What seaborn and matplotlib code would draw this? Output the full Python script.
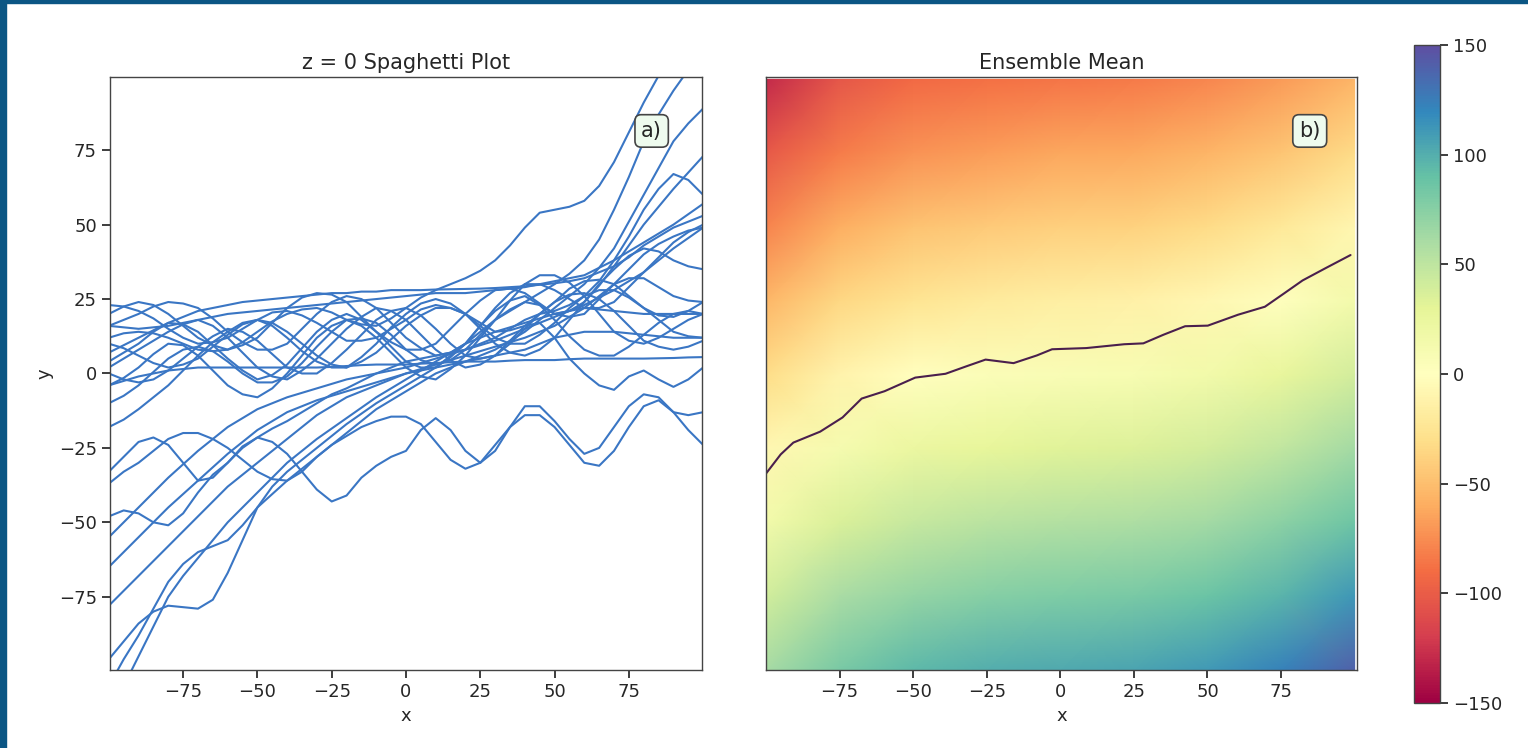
import matplotlib
matplotlib.use("Agg")
import matplotlib.pyplot as plt
from matplotlib.patches import Rectangle
import numpy as np
import pandas as pd
import seaborn as sns

# ---------------------------------------------------------------------------
# Data
# ---------------------------------------------------------------------------

x_grid = list(range(-100, 101, 5))

# z = 0 level of each ensemble member, sampled on x_grid
members = {
    "u1":  [23, 22.5, 21, 18.5, 15, 12, 10, 10.5, 12, 15, 18, 20.5, 21, 19.5, 17, 14, 11, 11, 12, 15,
            18, 21.5, 23, 22, 20, 17, 14, 14.5, 16, 20, 24, 28.5, 31, 31.5, 30, 26, 22, 19.5, 19, 21, 24],
    "u2":  [16, 15.5, 15, 15.5, 16, 17, 18, 19, 20, 20.5, 21, 21.5, 22, 22.5, 23, 23.5, 24, 24.5, 25, 25.5,
            26, 26.5, 27, 27, 27, 27.5, 28, 28.5, 29, 30, 31, 32, 33, 35.5, 38, 41, 44, 47, 50, 53.5, 57],
    "u3":  [10, 8.5, 6, 3.5, 2, 3, 5, 9, 13, 16.5, 18, 17, 14, 10, 6, 3, 2, 4, 7, 11.5,
            16, 19.5, 22, 22, 20, 16, 12, 10, 10, 13, 17, 22, 26, 28, 28, 25.5, 22, 18, 14, 12.5, 12],
    "u4":  [7, 9.5, 12, 14.5, 17, 19, 21, 22, 23, 24, 24.5, 25, 25.5, 26, 26.5, 27, 27, 27.5, 27.5, 28,
            28, 28, 28.2, 28.3, 28.4, 28.5, 28.7, 29, 29.3, 29.8, 30.3, 31, 32, 34, 36, 39, 43, 46, 49, 51, 53],
    "u5":  [4, 7, 10, 14, 17, 16.5, 14, 9.5, 5, 1, -2, -0.5, 3, 8.5, 14, 18, 20, 18, 14, 9,
            4, 2, 2, 5.5, 10, 16, 21, 24.5, 26, 23, 18, 12.5, 8, 6, 6, 9, 13, 17, 20, 21, 20],
    "u6":  [0, -2, -3, -2, 1, 5, 9, 12.5, 15, 14, 11, 6.5, 2, 0, 0, 3.5, 8, 13, 18, 21,
            22, 19.5, 15, 10, 6, 5, 6, 10, 15, 20, 24, 26.5, 27, 25, 21, 16, 11, 9, 8, 9, 11],
    "u7":  [-4, -2.5, -1, 0, 1, 1.5, 2, 2, 2, 2, 2, 2, 2, 2, 2, 2.2, 2.5, 2.8, 3, 3,
            3, 3.3, 3.5, 3.8, 4, 4, 4, 4.3, 4.5, 4.5, 4.5, 4.8, 5, 5, 5, 5, 5, 5.1, 5.2, 5.4, 5.5],
    "u8":  [-10, -7.5, -4, 0.5, 5, 8, 9, 7.5, 4, 0, -3, -3, -1, 3.5, 9, 14, 18, 18.5, 17, 13,
            8, 4.5, 3, 4.5, 8, 13, 18, 21.5, 24, 23, 20, 21, 24, 29.5, 36, 43, 50, 56, 62, 67.5, 73],
    "u9":  [-18, -15.5, -12, -8, -4, 1, 6, 10.5, 14, 17, 18, 16, 12, 7.5, 4, 2, 2, 5.5, 10, 15.5,
            20, 23.5, 25, 23.5, 20, 15, 10, 7, 6, 8, 12, 18, 24, 30, 35, 39.5, 42, 41, 38, 36, 35],
    "u10": [2, 5, 8, 11, 14, 16.5, 18, 16, 12, 7, 2, -1, -2, 1, 5, 10, 15, 19, 22, 21,
            18, 13, 8, 4.5, 2, 3, 6, 11, 16, 17, 12, 5, 0, -4, -5.5, -1, 1, -2, -4.5, -2, 2],
    "u11": [20, 22.5, 24, 23, 20, 16, 12, 9.5, 8, 9.5, 12, 17, 22, 25.5, 27, 26.5, 24, 19, 14, 10.5,
            8, 8, 10, 15, 20, 24.5, 28, 28.5, 27, 23.5, 20, 19, 20, 25, 30, 35, 40, 43.5, 46, 48, 49],
    "u12": [-4, -1.5, 2, 6.5, 10, 9.5, 6, 1, -4, -7, -8, -5, 0, 6, 12, 16, 18, 16, 12, 7,
            2, -1, -2, 1.5, 6, 12, 18, 24.5, 30, 33, 33, 30.5, 26, 20, 14, 11, 10, 12, 15, 18, 20],
    "u13": [16, 18, 20, 22.5, 24, 23.5, 22, 18.5, 14, 10.5, 8, 8, 10, 15, 20, 24, 26, 25, 22, 17,
            12, 8.5, 6, 7, 10, 16, 22, 27, 30, 30, 28, 25, 22, 22, 24, 29, 34, 39, 44, 47.5, 50],
    "h1":  [12, 13.5, 14, 13.5, 12, 10, 8, 7.5, 8, 10.5, 14, 17.5, 20, 21.5, 22, 20.5, 18, 16.5, 16, 18.5,
            22, 25.5, 28, 30, 32, 34.5, 38, 43, 49, 54, 55, 56, 58, 63, 71, 81, 91, 100, 108, 116, 124],
    "l1":  [-33, -28, -23, -21.5, -24, -30, -36, -35, -30, -24.5, -21.5, -23, -27, -33, -39, -43, -41, -35, -31, -28,
            -26, -19, -15, -19, -26, -30, -26, -18, -11, -11, -16, -22, -27, -25, -18, -11, -7, -8, -13, -14, -13],
    "l2":  [-37, -33, -30, -26, -22, -20, -20, -22, -25, -29, -33, -35.5, -36, -33, -28, -24, -21, -18, -16, -14.5,
            -14.5, -17, -23, -29, -32, -30, -24, -18, -14, -14, -18, -24, -30, -31, -26, -18, -11, -9, -13, -19, -24],
    "l3":  [-48, -46, -47, -50, -51, -47, -40, -34, -30, -25, -21.5, -18.5, -16, -13, -10, -7, -5, -2.5, 0, 2,
            4, 5, 6, 7, 8, 10, 12, 15, 18, 20, 21, 23, 26, 31, 38, 46, 55, 62, 67, 65, 60],
    "l4":  [-55, -50, -45, -40, -35, -30.5, -26, -22, -18, -15, -12, -10, -8, -6.5, -5, -3.5, -2, -1, 0, 1,
            2, 3.5, 5, 6.5, 8, 9.5, 11, 13, 15, 17, 19, 21, 23, 25.5, 28, 31, 34, 38, 42, 45.5, 49],
    "l5":  [-65, -60, -55, -50, -45, -40.5, -36, -31.5, -27, -23, -19, -16, -13, -11, -9, -7.5, -6, -4.5, -3, -1.5,
            0, 1.5, 3, 4.5, 6, 7.5, 9, 10.5, 12, 14, 16, 19, 22, 26, 30, 32, 32, 29, 26, 24.5, 24],
    "l6":  [-78, -73, -68, -63, -58, -53, -48, -43, -38, -34, -30, -26, -22, -18, -14, -11, -8, -6, -4, -2,
            0, 1, 2, 3, 4, 6, 8, 11, 14, 18, 22, 26, 30, 35.5, 42, 51, 60, 69, 78, 84, 89],
    "l7":  [-96, -90, -84, -80, -78, -78.5, -79, -76, -67, -56, -45, -38, -33, -29, -25, -21, -17, -13.5, -10, -7,
            -4, -1, 2, 6, 10, 14, 18, 21, 24, 27, 30, 33.5, 38, 45, 55, 66, 78, 87, 95, 102, 110],
    "l8":  [-105, -96, -88, -79, -70, -64, -60, -58, -56, -51, -45, -40.5, -36, -32, -28, -24, -20, -16, -12, -9,
            -6, -3, 0, 2, 4, 5, 6, 7, 8, 10, 12, 13, 14, 14, 14, 13.5, 13, 12.5, 12, 12, 12],
    "l9":  [-115, -105, -95, -85, -75, -68, -62, -56, -50, -45, -40, -35, -30, -26, -22, -18.5, -15, -11.5, -8, -5,
            -2, 1, 4, 7, 10, 12, 14, 15.5, 17, 18.5, 20, 21, 22, 21.5, 21, 20.5, 20, 20, 20, 20, 20],
}
for name, ys in members.items():
    assert len(ys) == len(x_grid), (name, len(ys))

# zero line of the ensemble mean (contour in panel b)
mean_x = [-100, -95, -90.7, -81.6, -74, -67.5, -59.7, -49.3, -39, -32, -25.4, -15.9, -8, -2.8,
          8.8, 21.7, 28.2, 35, 42.4, 50.1, 60.4, 69.5, 76, 82.3, 90, 98.6]
mean_y = [-33.5, -27, -23, -19.3, -14.5, -8.1, -5.6, -1, 0.3, 2.8, 5.1, 3.9, 6.5, 8.6,
          9, 10.3, 10.6, 13.5, 16.4, 16.6, 20.3, 23, 27.5, 31.9, 36, 40.5]

# ensemble mean field, rows y = 100 .. -100, columns x = -100 .. 100 (step 25)
field_x = [-100, -75, -50, -25, 0, 25, 50, 75, 100]
field_y = [100, 75, 50, 25, 0, -25, -50, -75, -100]
field = [
    [-130, -104, -92, -88, -86, -84, -78, -68, -56],
    [-103, -83, -72, -67, -63, -61, -56, -46, -32],
    [-79, -59, -48, -43, -39, -38, -32, -22, -9],
    [-55, -35, -25, -19, -16, -14, -8, 2, 15],
    [-31, -11, -1, 5, 8, 10, 16, 26, 39],
    [-8, 12, 23, 28, 32, 34, 39, 49, 63],
    [16, 36, 46, 52, 56, 58, 63, 73, 86],
    [40, 60, 70, 76, 79, 81, 87, 97, 112],
    [62, 82, 94, 100, 103, 105, 111, 122, 140],
]

cbar_ticks = [-150, -100, -50, 0, 50, 100, 150]
xy_ticks = [-75, -50, -25, 0, 25, 50, 75]

# ---------------------------------------------------------------------------
# Plot
# ---------------------------------------------------------------------------

sns.set_theme(style="ticks")
plt.rcParams.update({
    "font.family": ["DejaVu Sans"],
    "xtick.labelsize": 13,
    "ytick.labelsize": 13,
    "axes.labelsize": 13,
    "axes.titlesize": 15,
    "axes.edgecolor": "#444444",
    "axes.linewidth": 1.0,
})

fig = plt.figure(figsize=(15.28, 7.48), dpi=100)
ax_a = fig.add_axes([0.0720, 0.1043, 0.3874, 0.7928])
ax_b = fig.add_axes([0.5013, 0.1043, 0.3868, 0.7928])
cax = fig.add_axes([0.9254, 0.0602, 0.0170, 0.8797])

long = pd.DataFrame(
    [(name, xv, yv) for name, ys in members.items() for xv, yv in zip(x_grid, ys)],
    columns=["member", "x", "y"],
)
sns.lineplot(data=long, x="x", y="y", units="member", estimator=None,
             sort=False, color="#3a76c4", lw=1.5, ax=ax_a)
ax_a.set_xlim(-99.6, 99.6)
ax_a.set_ylim(-99.6, 99.6)
ax_a.set_xticks(xy_ticks)
ax_a.set_yticks(xy_ticks)
ax_a.set_xlabel("x")
ax_a.set_ylabel("y")
ax_a.set_title("z = 0 Spaghetti Plot")

box = dict(boxstyle="round,pad=0.3", facecolor="#eefbee", edgecolor="#444444", lw=1.2)
ax_a.text(0.915, 0.909, "a)", transform=ax_a.transAxes, ha="center", va="center",
          fontsize=15, bbox=box)

cmap = sns.color_palette("Spectral", as_cmap=True)
mesh = ax_b.pcolormesh(field_x, field_y, np.array(field), cmap=cmap,
                       vmin=-150, vmax=150, shading="gouraud")
sns.lineplot(x=mean_x, y=mean_y, color="#4a1f4d", lw=1.5, sort=False, ax=ax_b)
ax_b.set_xlim(-100, 100.8)
ax_b.set_ylim(-100, 100.8)
ax_b.set_xticks(xy_ticks)
ax_b.set_yticks([])
ax_b.set_xlabel("x")
ax_b.set_title("Ensemble Mean")
ax_b.text(0.92, 0.909, "b)", transform=ax_b.transAxes, ha="center", va="center",
          fontsize=15, bbox=box)

cb = fig.colorbar(mesh, cax=cax, ticks=cbar_ticks)
cb.ax.tick_params(labelsize=13)
cb.outline.set_edgecolor("#444444")

# dark frame strips seen on the left and top edges of the reference
fig.patches.append(Rectangle((0, 0), 6 / 1528, 1, transform=fig.transFigure,
                             color="#0b5684", zorder=10))
fig.patches.append(Rectangle((0, 1 - 3 / 748), 1, 3 / 748, transform=fig.transFigure,
                             color="#0b5684", zorder=10))

fig.savefig("out.png", dpi=100)
plt.close(fig)
